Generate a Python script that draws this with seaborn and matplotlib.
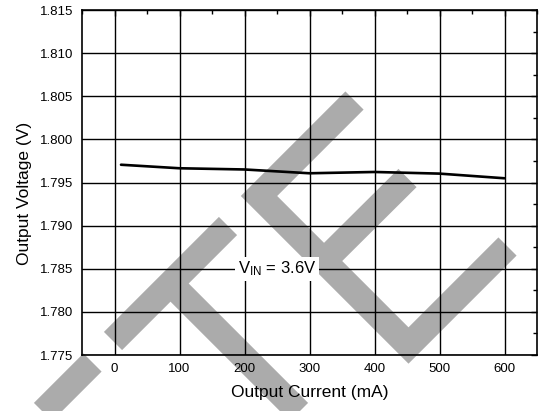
import numpy as np
import pandas as pd
import matplotlib
matplotlib.use('Agg')
import matplotlib.pyplot as plt
from matplotlib.ticker import MultipleLocator, FormatStrFormatter
import seaborn as sns

# values
current = [10, 100, 200, 300, 400, 500, 600]
voltage = [1.79706, 1.79665, 1.79651, 1.79607, 1.79622, 1.79603, 1.79549]
x_ticks = [0, 100, 200, 300, 400, 500, 600]
y_ticks = [1.775, 1.780, 1.785, 1.790, 1.795, 1.800, 1.805, 1.810, 1.815]
annotation = '$\\mathregular{V_{IN}}$ = 3.6V'

# grey watermark strokes, figure pixel coords (decoration only)
watermark = [
    [(40, 415), (92.5, 362.5)],
    [(113, 341), (228, 226)],
    [(170.5, 283.5), (305, 418)],
    [(354.5, 100.5), (259, 196), (408.5, 345.5), (507.5, 246.5)],
    [(324, 261), (407.5, 178)],
]

sns.set_style('white')
plt.rcParams['font.family'] = ['Liberation Sans', 'DejaVu Sans']
plt.rcParams['mathtext.default'] = 'regular'
plt.rcParams['text.color'] = 'black'
plt.rcParams['axes.labelcolor'] = 'black'

df = pd.DataFrame({'Output Current (mA)': current, 'Output Voltage (V)': voltage})

fig = plt.figure(figsize=(5.4, 4.11), dpi=100)
fig.patch.set_facecolor('white')

# watermark layer behind everything
bg = fig.add_axes([0, 0, 1, 1], zorder=0)
bg.set_xlim(0, 540)
bg.set_ylim(411, 0)
bg.axis('off')
for stroke in watermark:
    xs, ys = zip(*stroke)
    bg.plot(xs, ys, color='#ababab', lw=18.5, solid_capstyle='butt',
            solid_joinstyle='miter')

ax = fig.add_axes([82/540, 1-355/411, 455/540, 345/411], zorder=1)
ax.patch.set_alpha(0)

sns.lineplot(data=df, x='Output Current (mA)', y='Output Voltage (V)',
             ax=ax, color='black', lw=1.9, zorder=3)

ax.set_xlim(-50, 650)
ax.set_ylim(1.775, 1.815)
ax.set_xticks(x_ticks)
ax.set_yticks(y_ticks)
ax.yaxis.set_major_formatter(FormatStrFormatter('%.3f'))
ax.xaxis.set_minor_locator(MultipleLocator(50))
ax.yaxis.set_minor_locator(MultipleLocator(0.0025))
ax.grid(True, which='major', color='black', lw=1.0)
ax.tick_params(which='both', direction='in', top=True, right=True,
               labelsize=9.5, colors='black')
ax.tick_params(axis='x', pad=6)
ax.tick_params(axis='y', pad=6)
ax.tick_params(which='major', length=4, width=1)
ax.tick_params(which='minor', length=3, width=1)
for s in ax.spines.values():
    s.set_visible(True)
    s.set_color('black')
    s.set_linewidth(1.2)

ax.set_xlabel('Output Current (mA)', fontsize=12.5, labelpad=7)
ax.set_ylabel('Output Voltage (V)', fontsize=12.5)
ax.yaxis.set_label_coords(-0.11, 0.467)

ax.text(250, 1.785, annotation, fontsize=12, ha='center', va='center',
        zorder=4, bbox=dict(facecolor='white', edgecolor='none', pad=2))

plt.savefig('out.png', dpi=100)
